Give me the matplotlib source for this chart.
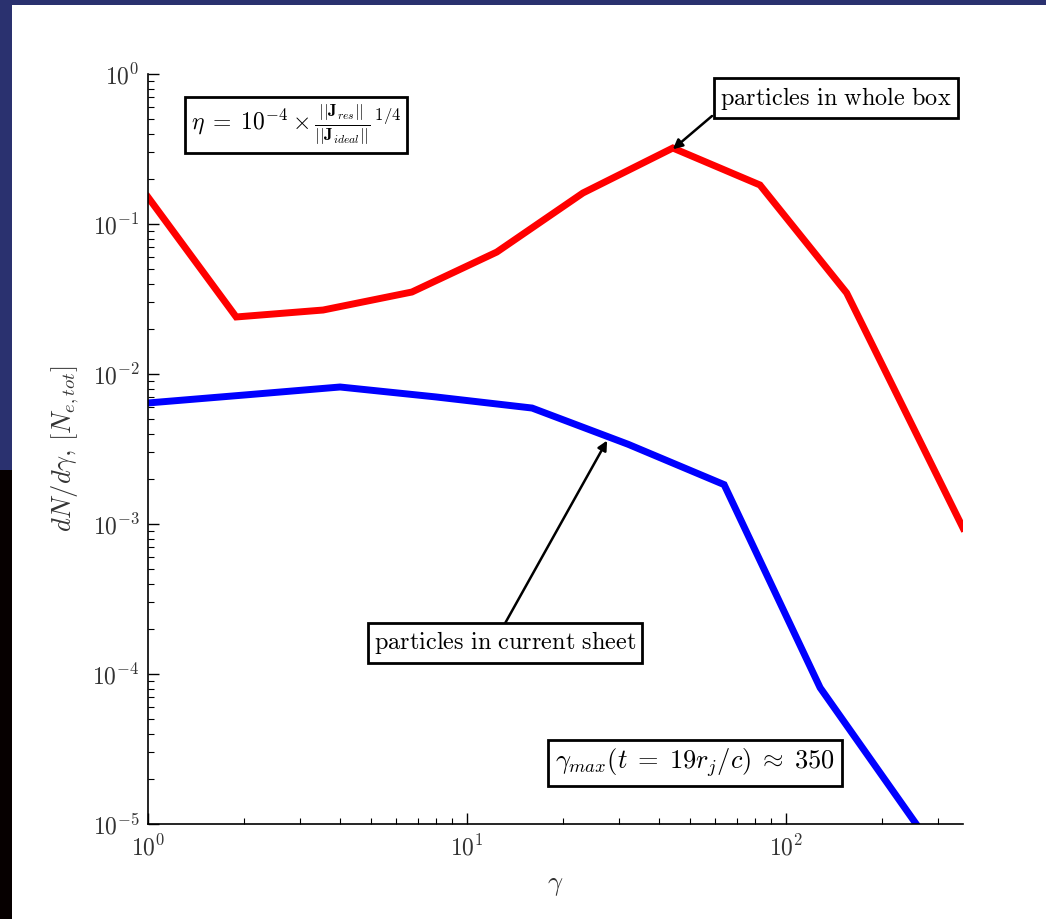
import matplotlib
matplotlib.use("Agg")
import matplotlib.pyplot as plt
from matplotlib.patches import Rectangle

plt.rcParams['mathtext.fontset'] = 'cm'
plt.rcParams['font.family'] = 'serif'
plt.rcParams['font.serif'] = ['cmr10', 'DejaVu Serif']
plt.rcParams['axes.formatter.use_mathtext'] = True

# data
gamma_box = [1.0, 1.89, 3.54, 6.72, 12.4, 23.1, 44.2, 82.9, 155.0, 359.0]
dn_box = [0.151, 0.024, 0.0267, 0.0352, 0.065, 0.161, 0.321, 0.182, 0.0347, 0.00094]
gamma_sheet = [1, 2, 4, 8, 16, 32, 64, 128, 256]
dn_sheet = [0.00641, 0.00724, 0.00819, 0.00703, 0.00593, 0.0034, 0.00183, 8.1e-5, 1.0e-5]

W, H = 1046, 919
fig = plt.figure(figsize=(W / 100, H / 100), dpi=100, facecolor='white')

# decorative background strips
fig.patches.append(Rectangle((0, 1 - 5 / H), 1, 5 / H, transform=fig.transFigure,
                             facecolor='#2a316f', edgecolor='none', zorder=-10))
fig.patches.append(Rectangle((0, 1 - 470 / H), 12 / W, 470 / H, transform=fig.transFigure,
                             facecolor='#2a316f', edgecolor='none', zorder=-10))
fig.patches.append(Rectangle((0, 0), 12 / W, 1 - 470 / H, transform=fig.transFigure,
                             facecolor='#060000', edgecolor='none', zorder=-10))

ax = fig.add_axes([148 / W, 1 - 824 / H, (963 - 148) / W, (824 - 74) / H])
ax.set_xscale('log')
ax.set_yscale('log')
ax.plot(gamma_box, dn_box, color='#ff0000', lw=5, solid_joinstyle='miter')
ax.plot(gamma_sheet, dn_sheet, color='#0000ff', lw=5, solid_joinstyle='miter')
ax.set_xlim(1, 359)
ax.set_ylim(1e-5, 1)

for s in ['top', 'right']:
    ax.spines[s].set_visible(False)
for s in ['left', 'bottom']:
    ax.spines[s].set_linewidth(1.2)
ax.tick_params(which='major', direction='in', length=8, width=1, labelsize=17,
               labelcolor='#333333', pad=6)
ax.tick_params(which='minor', direction='in', length=4, width=0.8)
ax.tick_params(axis='x', which='major', pad=8)

ax.set_xlabel(r'$\gamma$', fontsize=19, color='#333333', labelpad=10)
ax.set_ylabel(r'$dN/d\gamma,\,[N_{e,tot}]$', fontsize=19, color='#333333', labelpad=8)

box = dict(boxstyle='square,pad=0.25', facecolor='white', edgecolor='black', lw=2)
arrow = dict(arrowstyle='-|>', color='black', lw=1.8, mutation_scale=14, shrinkA=0, shrinkB=0)

# whole box label and arrow
ax.text(836, H - 98, r'$\mathrm{particles\ in\ whole\ box}$', transform=None,
        fontsize=17.5, ha='center', va='center', bbox=box, zorder=5)
ax.annotate('', xy=(44.2, 0.315), xytext=(712, H - 116), textcoords='figure pixels',
            arrowprops=arrow)

# current sheet label and arrow
ax.text(505, H - 643, r'$\mathrm{particles\ in\ current\ sheet}$', transform=None,
        fontsize=17.5, ha='center', va='center', bbox=box, zorder=5)
ax.annotate('', xy=(27.5, 0.0036), xytext=(503, H - 627), textcoords='figure pixels',
            arrowprops=arrow)

ax.text(296, H - 125,
        r'$\eta\;=\;10^{-4}\times{\frac{||\mathbf{J}_{res}||}{||\mathbf{J}_{ideal}||}}^{\,1/4}$',
        transform=None, fontsize=17, ha='center', va='center', bbox=box)
ax.text(695, H - 763,
        r'$\gamma_{max}(t\;=\;19r_j/c)\;\approx\;350$',
        transform=None, fontsize=19, ha='center', va='center', bbox=box)

fig.savefig('out.png', dpi=100, facecolor='white')
